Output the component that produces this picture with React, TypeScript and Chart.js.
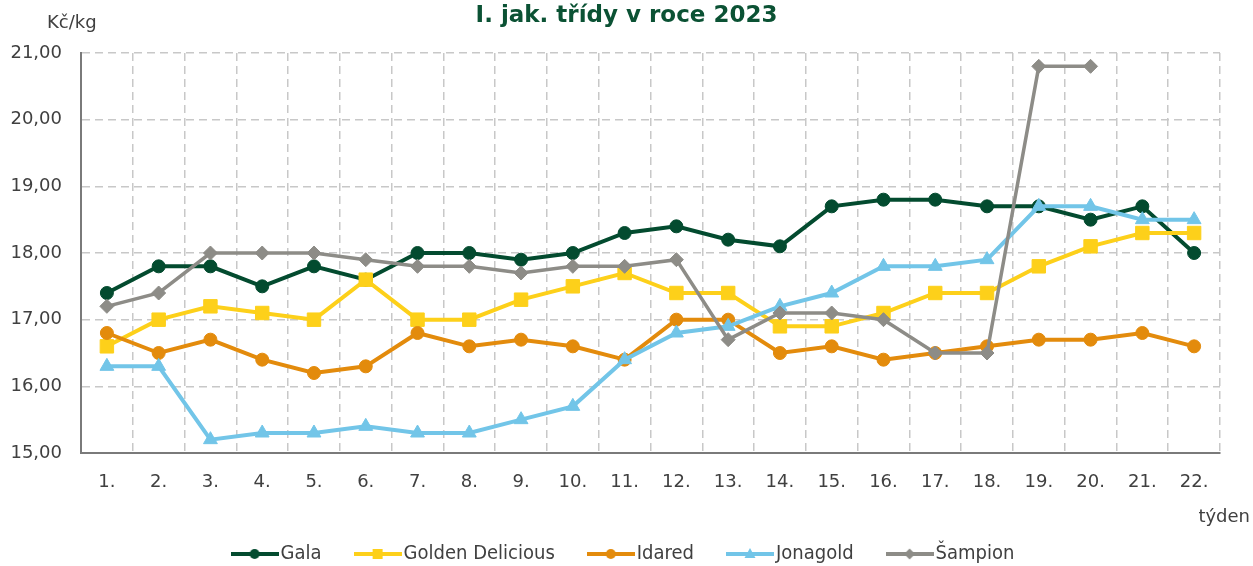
import React, { useEffect, useRef } from "react";
import { Chart, registerables } from "chart.js";

Chart.register(...registerables);

const weeks = ["1.", "2.", "3.", "4.", "5.", "6.", "7.", "8.", "9.", "10.", "11.", "12.", "13.", "14.", "15.", "16.", "17.", "18.", "19.", "20.", "21.", "22."];

const gala = [17.4, 17.8, 17.8, 17.5, 17.8, 17.6, 18.0, 18.0, 17.9, 18.0, 18.3, 18.4, 18.2, 18.1, 18.7, 18.8, 18.8, 18.7, 18.7, 18.5, 18.7, 18.0];
const golden = [16.6, 17.0, 17.2, 17.1, 17.0, 17.6, 17.0, 17.0, 17.3, 17.5, 17.7, 17.4, 17.4, 16.9, 16.9, 17.1, 17.4, 17.4, 17.8, 18.1, 18.3, 18.3];
const idared = [16.8, 16.5, 16.7, 16.4, 16.2, 16.3, 16.8, 16.6, 16.7, 16.6, 16.4, 17.0, 17.0, 16.5, 16.6, 16.4, 16.5, 16.6, 16.7, 16.7, 16.8, 16.6];
const jonagold = [16.3, 16.3, 15.2, 15.3, 15.3, 15.4, 15.3, 15.3, 15.5, 15.7, 16.4, 16.8, 16.9, 17.2, 17.4, 17.8, 17.8, 17.9, 18.7, 18.7, 18.5, 18.5];
const sampion = [17.2, 17.4, 18.0, 18.0, 18.0, 17.9, 17.8, 17.8, 17.7, 17.8, 17.8, 17.9, 16.7, 17.1, 17.1, 17.0, 16.5, 16.5, 20.8, 20.8, null, null];

const seriesNames = ["Gala", "Golden Delicious", "Idared", "Jonagold", "Šampion"];
const seriesColors = ["#034b2f", "#fdd01a", "#e38b0c", "#72c5e8", "#8d8c87"];

const TITLE = "I. jak. třídy v roce 2023";
const Y_UNIT = "Kč/kg";
const X_UNIT = "týden";

const TEXT_COLOR = "#404040";
const FONT = "'DejaVu Sans', sans-serif";
const LEGEND_FONT = "'DejaVu Sans Condensed', 'DejaVu Sans', sans-serif";

function makeMarker(color: string, style: string): HTMLCanvasElement {
  const c = document.createElement("canvas");
  c.width = 48;
  c.height = 16;
  const ctx = c.getContext("2d")!;
  ctx.strokeStyle = color;
  ctx.fillStyle = color;
  ctx.lineWidth = 4;
  ctx.beginPath();
  ctx.moveTo(0, 8);
  ctx.lineTo(48, 8);
  ctx.stroke();
  const x = 24, y = 8;
  ctx.beginPath();
  if (style === "circle") {
    ctx.arc(x, y, 5, 0, Math.PI * 2);
  } else if (style === "rect") {
    ctx.rect(x - 5, y - 5, 10, 10);
  } else if (style === "triangle") {
    ctx.moveTo(x, y - 6);
    ctx.lineTo(x + 5.5, y + 4);
    ctx.lineTo(x - 5.5, y + 4);
    ctx.closePath();
  } else {
    ctx.moveTo(x, y - 5.5);
    ctx.lineTo(x + 5.5, y);
    ctx.lineTo(x, y + 5.5);
    ctx.lineTo(x - 5.5, y);
    ctx.closePath();
  }
  ctx.fill();
  return c;
}

const unitLabels = {
  id: "unitLabels",
  afterDraw(chart: any) {
    const ctx = chart.ctx;
    ctx.save();
    ctx.fillStyle = TEXT_COLOR;
    ctx.font = `18px ${FONT}`;
    ctx.textBaseline = "alphabetic";
    ctx.textAlign = "left";
    ctx.fillText(Y_UNIT, 47, 28);
    ctx.textAlign = "right";
    ctx.fillText(X_UNIT, 1250, 522);
    ctx.restore();
  },
};

export default function App() {
  const ref = useRef<HTMLCanvasElement | null>(null);

  useEffect(() => {
    document.body.style.margin = "0";
    const canvas = ref.current!;
    const styles = ["circle", "rect", "circle", "triangle", "rectRot"];
    const markers = seriesColors.map((c, i) => makeMarker(c, styles[i]));
    const values = [gala, golden, idared, jonagold, sampion];
    const radii = [6.5, 9.5, 6.5, 8, 7];
    const widths = [4, 4, 4, 4, 3.5];

    const datasets = seriesNames.map((name, i) => ({
      label: name,
      data: values[i],
      yAxisID: "y",
      borderColor: seriesColors[i],
      backgroundColor: seriesColors[i],
      pointBackgroundColor: seriesColors[i],
      pointBorderColor: seriesColors[i],
      pointStyle: styles[i],
      pointRadius: radii[i],
      pointBorderWidth: 1,
      borderWidth: widths[i],
      tension: 0,
      spanGaps: false,
      order: 5 - i,
    }));

    const chart = new Chart(canvas, {
      type: "line",
      data: { labels: weeks, datasets },
      plugins: [unitLabels],
      options: {
        responsive: false,
        animation: false,
        layout: { padding: { left: 0, right: 0, top: 0, bottom: 0 } },
        plugins: {
          tooltip: { enabled: false },
          title: {
            display: true,
            text: TITLE,
            color: "#0b5234",
            font: { family: FONT, size: 23, weight: "bold" },
            padding: { top: 2, bottom: 23.4 },
          },
          legend: {
            display: true,
            position: "bottom",
            maxHeight: 62,
            labels: {
              usePointStyle: true,
              pointStyleWidth: 32,
              boxHeight: 16,
              padding: 40,
              color: TEXT_COLOR,
              font: { family: LEGEND_FONT, size: 20 },
              generateLabels: () =>
                seriesNames.map((name, i) => ({
                  text: name,
                  fillStyle: seriesColors[i],
                  strokeStyle: seriesColors[i],
                  lineWidth: 0,
                  pointStyle: markers[i],
                  hidden: false,
                  datasetIndex: i,
                  fontColor: TEXT_COLOR,
                })),
            },
          },
        },
        scales: {
          x: {
            type: "category",
            offset: true,
            afterFit: (s: any) => {
              s.height = 51;
            },
            grid: { offset: true, color: "#c8c8c8", lineWidth: 1.5, drawTicks: false },
            border: { display: true, color: "#7a7a7a", width: 2, dash: [8, 5] },
            ticks: { color: TEXT_COLOR, font: { family: FONT, size: 18 }, padding: 19, maxRotation: 0, autoSkip: false },
          },
          y: {
            position: "left",
            min: 15,
            max: 21,
            afterFit: (s: any) => {
              s.width = 81;
            },
            grid: { color: "#c8c8c8", lineWidth: 1.5, drawTicks: false },
            border: { display: true, color: "#7a7a7a", width: 2, dash: [8, 5] },
            ticks: {
              stepSize: 1,
              padding: 19,
              color: TEXT_COLOR,
              font: { family: FONT, size: 18 },
              callback: (v: any) => Number(v).toFixed(2).replace(".", ","),
            },
          },
          spacer: {
            type: "linear",
            position: "right",
            display: true,
            afterFit: (s: any) => {
              s.width = 33;
            },
            grid: { display: false, drawOnChartArea: false, drawTicks: false },
            border: { display: false },
            ticks: { display: false },
          },
        },
      },
    } as any);
    return () => chart.destroy();
  }, []);

  return (
    <div style={{ position: "fixed", left: 0, top: 0, width: 1253, height: 566, background: "#fff" }}>
      <canvas ref={ref} width={1253} height={566} style={{ display: "block", width: 1253, height: 566 }} />
    </div>
  );
}
